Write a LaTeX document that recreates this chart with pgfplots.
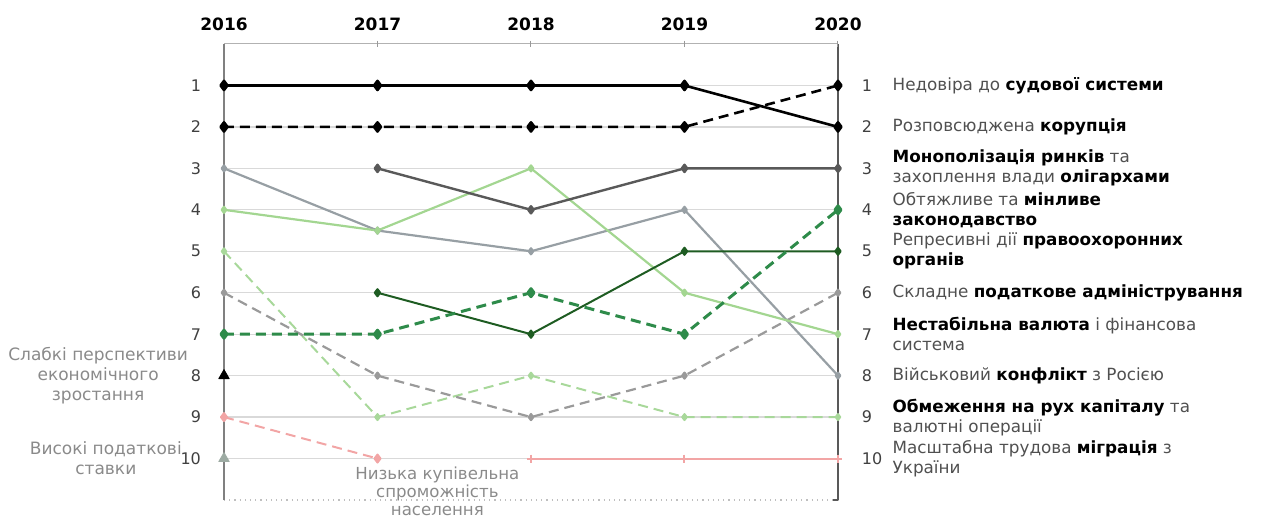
\documentclass[border=0pt]{standalone}
\usepackage{pgfplots}
\pgfplotsset{compat=1.18}
\usepackage{fontspec}
\setmainfont{DejaVu Sans}
\definecolor{tickgray}{HTML}{404040}
\definecolor{annogray}{HTML}{8A8A8A}
\definecolor{txtgray}{HTML}{505050}
\definecolor{dgray}{HTML}{595959}
\definecolor{mgray}{HTML}{979FA4}
\definecolor{lgreen}{HTML}{A3D691}
\definecolor{dgreen}{HTML}{1E5C22}
\definecolor{mgreen}{HTML}{2E8B4A}
\definecolor{lgreend}{HTML}{A8D89A}
\definecolor{gdash}{HTML}{9A9A9A}
\definecolor{pink}{HTML}{F2A5A5}
\definecolor{tri}{HTML}{9DABA3}
\begin{document}
\begin{tikzpicture}
\useasboundingbox (-112pt,-9pt) rectangle (520pt,250pt);
\begin{axis}[
  scale only axis, width=307pt, height=228pt,
  at={(0,0)}, anchor=south west,
  xmin=0, xmax=4, ymin=0, ymax=11, y dir=reverse,
  axis line style={draw=none},
  xtick={0,1,2,3,4},
  xticklabels={\textbf{2016},\textbf{2017},\textbf{2018},\textbf{2019},\textbf{2020}},
  xticklabel pos=right,
  xticklabel style={font=\fontsize{8.5}{10}\selectfont, text=black, yshift=3pt},
  xtick style={draw=none},
  ytick={1,2,3,4,5,6,7,8,9,10},
  yticklabel pos=left,
  yticklabel style={font=\fontsize{8}{9.6}\selectfont, text=tickgray, xshift=-8pt},
  ytick style={draw=none},
  ymajorgrids, grid style={draw=black!15, line width=0.6pt},
  /pgf/number format/assume math mode=true,
  clip=false,
  every axis plot/.append style={line join=round},
]
% frame
\draw[draw=gray!60, line width=0.5pt] (rel axis cs:0,1) -- (rel axis cs:1,1);
\draw[draw=gray!50, dotted, line width=0.6pt] (rel axis cs:0,0) -- (rel axis cs:1,0);
\draw[draw=gray, line width=1.1pt] (rel axis cs:0,0) -- (rel axis cs:0,1);
\draw[draw=dgray, line width=0.6pt] (rel axis cs:1,0) -- (rel axis cs:1,1);
\draw[draw=gray!80, line width=0.5pt] (axis cs:1,-0.08) -- (axis cs:1,0.08);
\draw[draw=gray!80, line width=0.5pt] (axis cs:2,-0.08) -- (axis cs:2,0.08);
\draw[draw=gray!80, line width=0.5pt] (axis cs:3,-0.08) -- (axis cs:3,0.08);
\draw[draw=gray!80, line width=0.5pt] (axis cs:4,-0.08) -- (axis cs:4,0.08);
\draw[draw=dgray, line width=0.6pt] (axis cs:3.97,11) -- (axis cs:4,11);
\pgfplotsinvokeforeach{1,2,3,4,5,6,7,8,9,10}{
  \draw[draw=dgray, line width=0.5pt] (axis cs:3.985,#1) -- (axis cs:4.015,#1);
  \node[anchor=west, font=\fontsize{8}{9.6}\selectfont, text=tickgray] at (axis cs:4.11,#1) {#1};
}

% series
\addplot[pink, line width=1pt, dash pattern=on 5pt off 3pt, mark=diamond*, mark size=2pt, mark options={solid}] coordinates {(0,9) (1,10)};
\addplot[pink, line width=1pt, mark=+, mark size=2pt] coordinates {(2,10) (3,10) (4,10)};
\addplot[lgreend, line width=1pt, dash pattern=on 5pt off 3pt, mark=diamond*, mark size=1.5pt, mark options={solid}] coordinates {(0,5) (1,9) (2,8) (3,9) (4,9)};
\addplot[gdash, line width=1.1pt, dash pattern=on 5pt off 3pt, mark=diamond*, mark size=1.5pt, mark options={solid}] coordinates {(0,6) (1,8) (2,9) (3,8) (4,6)};
\addplot[mgray, line width=1.1pt, mark=diamond*, mark size=1.5pt] coordinates {(0,3) (1,4.5) (2,5) (3,4) (4,8)};
\addplot[lgreen, line width=1.1pt, mark=diamond*, mark size=1.5pt] coordinates {(0,4) (1,4.5) (2,3) (3,6) (4,7)};
\addplot[dgray, line width=1.2pt, mark=diamond*, mark size=1.8pt] coordinates {(1,3) (2,4) (3,3) (4,3)};
\addplot[dgreen, line width=1pt, mark=diamond*, mark size=1.8pt] coordinates {(1,6) (2,7) (3,5) (4,5)};
\addplot[mgreen, line width=1.5pt, dash pattern=on 5pt off 3pt, mark=diamond*, mark size=2pt, mark options={solid}] coordinates {(0,7) (1,7) (2,6) (3,7) (4,4)};
\addplot[black, line width=1.3pt, dash pattern=on 5pt off 3pt, mark=diamond*, mark size=2.3pt, mark options={solid}] coordinates {(0,2) (1,2) (2,2) (3,2) (4,1)};
\addplot[black, line width=1.3pt, mark=diamond*, mark size=2.3pt] coordinates {(0,1) (1,1) (2,1) (3,1) (4,2)};
\addplot[only marks, black, mark=triangle*, mark size=3pt] coordinates {(0,8)};
\addplot[only marks, tri, mark=triangle*, mark size=3pt] coordinates {(0,10)};

% left and bottom annotations
\node[align=center, text=annogray, font=\fontsize{8.5}{10}\selectfont] at (axis cs:-0.82,8) {Слабкі перспективи\\економічного\\зростання};
\node[align=center, text=annogray, font=\fontsize{8.5}{10}\selectfont] at (axis cs:-0.77,10) {Високі податкові\\ставки};
\node[align=center, text=annogray, font=\fontsize{8.3}{9}\selectfont] at (axis cs:1.39,10.8) {Низька купівельна\\спроможність\\населення};

% right labels
\tikzset{rl/.style={anchor=west, align=left, text=txtgray, font=\fontsize{8.4}{10}\selectfont}}
\node[rl] at (axis cs:4.31,1) {Недовіра до \textbf{\color{black}судової системи}};
\node[rl] at (axis cs:4.31,2) {Розповсюджена \textbf{\color{black}корупція}};
\node[rl] at (axis cs:4.31,3) {\textbf{\color{black}Монополізація ринків} та\\захоплення влади \textbf{\color{black}олігархами}};
\node[rl] at (axis cs:4.31,4) {Обтяжливе та \textbf{\color{black}мінливе}\\\textbf{\color{black}законодавство}};
\node[rl] at (axis cs:4.31,5) {Репресивні дії \textbf{\color{black}правоохоронних}\\\textbf{\color{black}органів}};
\node[rl] at (axis cs:4.31,6) {Складне \textbf{\color{black}податкове адміністрування}};
\node[rl] at (axis cs:4.31,7) {\textbf{\color{black}Нестабільна валюта} і фінансова\\система};
\node[rl] at (axis cs:4.31,8) {Військовий \textbf{\color{black}конфлікт} з Росією};
\node[rl] at (axis cs:4.31,9) {\textbf{\color{black}Обмеження на рух капіталу} та\\валютні операції};
\node[rl] at (axis cs:4.31,10) {Масштабна трудова \textbf{\color{black}міграція} з\\України};
\end{axis}
\end{tikzpicture}
\end{document}
